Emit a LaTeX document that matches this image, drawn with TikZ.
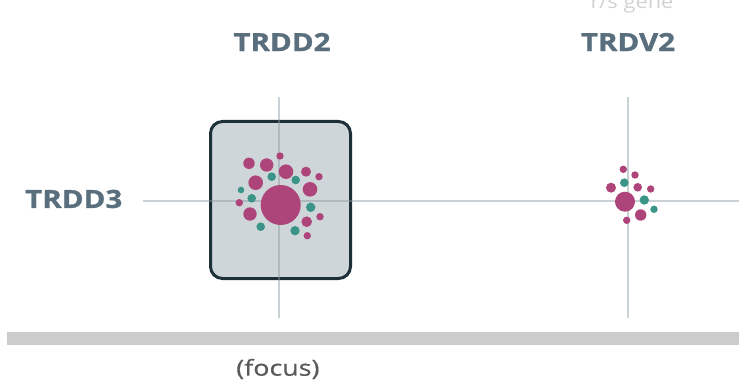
\documentclass[tikz,border=0pt]{standalone}
\usepackage{fontspec}
\setmainfont{Open Sans}
\newfontfamily\lblfont{Open Sans}[BoldFeatures={FakeBold=1.2}]
\newfontfamily\focfont{Open Sans}[FakeBold=0.4]
\definecolor{lbl}{HTML}{5A6F7D}
\definecolor{boxfill}{HTML}{CFD6D9}
\definecolor{boxedge}{HTML}{1D3038}
\definecolor{mag}{HTML}{AD457A}
\definecolor{teal}{HTML}{3A9488}
\definecolor{axis}{HTML}{8A9AA0}
\definecolor{bar}{HTML}{CCCCCC}
\tikzset{
  lab/.style={font=\lblfont\bfseries\fontsize{25}{25}\selectfont, text=lbl, inner sep=0pt, xscale=1.18, transform shape},
  axisline/.style={draw=axis, draw opacity=0.45, line width=2pt},
  m/.style={fill=mag},
  t/.style={fill=teal},
}
\begin{document}
\begin{tikzpicture}[x=1pt,y=-1pt]
\useasboundingbox (0,0) rectangle (739,385);
\clip (0,0) rectangle (739,385);
% partial top text
\node[anchor=base, font=\fontsize{19}{19}\selectfont, text=gray!35, inner sep=0pt, xscale=1.15, transform shape] (toptext) at (632,9) {r/s gene};
% labels
\node[lab] (trdd2) at (282,42) {TRDD2};
\node[lab] (trdv2) at (628,42) {TRDV2};
\node[lab, anchor=west] (trdd3) at (25,199) {TRDD3};
% box
\node[draw=boxedge, line width=3pt, fill=boxfill, rounded corners=12pt, minimum width=140pt, minimum height=157pt, inner sep=0pt] (focusbox) at (280.5,200) {};
% axis lines
\coordinate (v1a) at (279,97); \coordinate (v1b) at (279,318);
\coordinate (v2a) at (628,97); \coordinate (v2b) at (628,318);
\coordinate (ha) at (143,201); \coordinate (hb) at (739,201);
\draw[axisline] (v1a) -- (v1b);
\draw[axisline] (v2a) -- (v2b);
\draw[axisline] (ha) -- (hb);
% dots in box
\fill[m] (280.7,205) circle (20);
\fill[m] (249,163.3) circle (5.7);
\fill[m] (266.7,165) circle (6.7);
\fill[m] (280,156) circle (3.7);
\fill[m] (286,171.7) circle (7.3);
\fill[m] (306,171.7) circle (5);
\fill[m] (319,176.7) circle (3.7);
\fill[m] (255.7,182.7) circle (7.3);
\fill[t] (271.7,176.7) circle (4.3);
\fill[t] (295.7,180) circle (4.3);
\fill[m] (310,189.3) circle (7.3);
\fill[t] (241,190) circle (3.3);
\fill[t] (251.7,198.3) circle (4.3);
\fill[m] (239.3,202.7) circle (3.7);
\fill[m] (250,214) circle (6.7);
\fill[t] (310.7,207.3) circle (4.7);
\fill[m] (320,216.7) circle (3.7);
\fill[m] (306.7,221.7) circle (5.3);
\fill[t] (260.7,226.7) circle (4.3);
\fill[t] (295,230.7) circle (4.7);
\fill[m] (307.3,235.7) circle (3.7);
% dots right
\fill[m] (625,201.7) circle (10);
\fill[m] (623.3,169.3) circle (3.7);
\fill[m] (635,175) circle (3.7);
\fill[t] (624.3,182.7) circle (4.3);
\fill[m] (611,187.7) circle (5);
\fill[m] (637.7,187.3) circle (4.3);
\fill[m] (650.7,189) circle (3.7);
\fill[t] (644.3,200) circle (4.7);
\fill[t] (654,209.3) circle (3.7);
\fill[m] (640.7,215) circle (5.7);
\fill[m] (626.7,220.3) circle (3.7);
% bottom bar
\fill[bar] (7,332) rectangle (739,345);
\node[anchor=west, font=\focfont\fontsize{22}{22}\selectfont, text=black!65, inner sep=0pt, xscale=1.22, transform shape] (focuslbl) at (236,369) {(focus)};
\end{tikzpicture}
\end{document}
